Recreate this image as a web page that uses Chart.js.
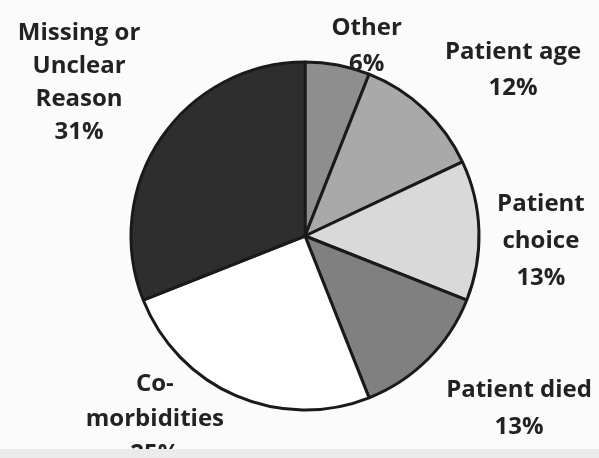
<!DOCTYPE html>
<html>
<head>
<meta charset="utf-8">
<script src="https://cdn.jsdelivr.net/npm/chart.js@4/dist/chart.umd.min.js"></script>
<style>
  html, body { margin: 0; padding: 0; background: #fbfbfb; }
  #wrap { width: 599px; height: 458px; position: relative; }
</style>
</head>
<body>
<div id="wrap"><canvas id="reasons-chart"></canvas></div>
<script>
const reasons = ['Other', 'Patient age', 'Patient choice', 'Patient died', 'Co-morbidities', 'Missing or Unclear Reason'];
const shares = [6, 12, 13, 13, 25, 31];
// how each label breaks over lines
const labelLines = [
  ['Other'],
  ['Patient age'],
  ['Patient', 'choice'],
  ['Patient died'],
  ['Co-', 'morbidities'],
  ['Missing or', 'Unclear', 'Reason']
];
const sliceColors = ['#8e8e8e', '#a9a9a9', '#d9d9d9', '#808080', '#ffffff', '#2e2e2e'];

// label block offset from the middle of each slice's outer edge, and its line spacing
const labelOffsets = [[29, -19], [89, -39], [62, 11], [91, 50], [-81, 23], [-82, -56]];
const lineHeights = [36, 36, 37, 37, 35, 33];

const outsideLabels = {
  id: 'outsideLabels',
  afterDatasetsDraw(chart) {
    const ctx = chart.ctx;
    const arcs = chart.getDatasetMeta(0).data;
    ctx.save();
    ctx.font = 'bold 24px "Open Sans"';
    ctx.fillStyle = '#222222';
    ctx.textAlign = 'center';
    ctx.textBaseline = 'middle';
    arcs.forEach((arc, i) => {
      const mid = (arc.startAngle + arc.endAngle) / 2;
      const ex = arc.x + Math.cos(mid) * arc.outerRadius;
      const ey = arc.y + Math.sin(mid) * arc.outerRadius;
      const lines = labelLines[i].concat([shares[i] + '%']);
      const lh = lineHeights[i];
      const cx = ex + labelOffsets[i][0];
      const top = ey + labelOffsets[i][1] - (lines.length - 1) * lh / 2;
      lines.forEach((t, k) => ctx.fillText(t, cx, top + k * lh));
    });
    ctx.restore();
  },
  afterDraw(chart) {
    // light strip along the bottom edge
    const ctx = chart.ctx;
    ctx.save();
    ctx.fillStyle = '#ebebeb';
    ctx.fillRect(0, 449, chart.width, chart.height - 449);
    ctx.restore();
  }
};

new Chart(document.getElementById('reasons-chart'), {
  type: 'pie',
  data: {
    labels: reasons,
    datasets: [{
      data: shares,
      backgroundColor: sliceColors,
      borderColor: '#1a1a1a',
      borderWidth: 3
    }]
  },
  options: {
    responsive: true,
    maintainAspectRatio: false,
    animation: false,
    radius: 174,
    layout: { padding: { top: 62, bottom: 48, left: 20, right: 9 } },
    plugins: {
      legend: { display: false },
      tooltip: { enabled: false }
    }
  },
  plugins: [outsideLabels]
});
</script>
</body>
</html>
